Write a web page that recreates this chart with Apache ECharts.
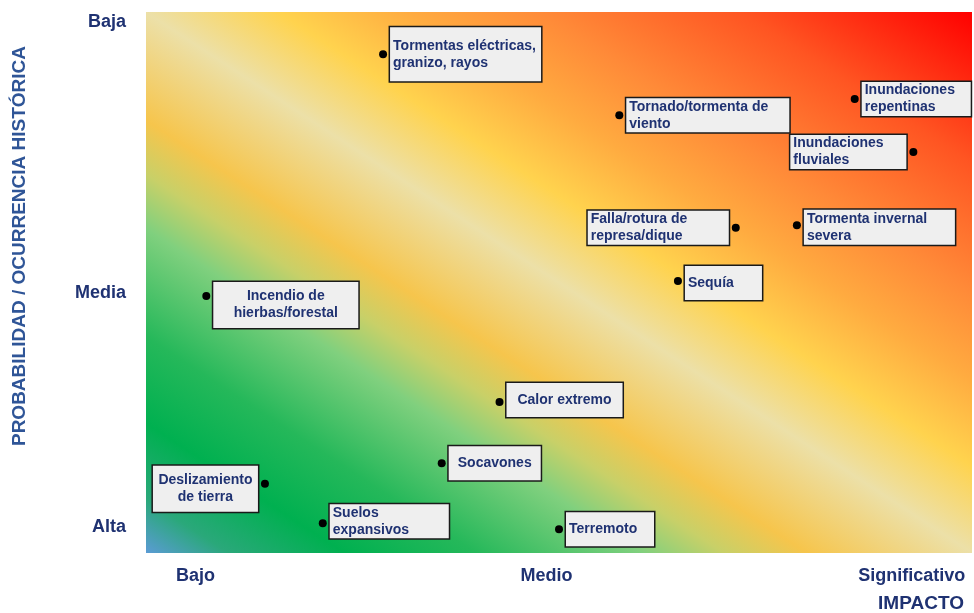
<!DOCTYPE html>
<html>
<head>
<meta charset="utf-8">
<script src="https://cdn.jsdelivr.net/npm/echarts@6/dist/echarts.min.js"></script>
<style>
  html, body { margin: 0; padding: 0; background: #fff; }
  #chart { width: 974px; height: 613px; }
</style>
</head>
<body>
<div id="chart"></div>
<script>
const hazards = [
  'Tormentas eléctricas,\ngranizo, rayos',
  'Tornado/tormenta de\nviento',
  'Inundaciones\nrepentinas',
  'Inundaciones\nfluviales',
  'Falla/rotura de\nrepresa/dique',
  'Tormenta invernal\nsevera',
  'Sequía',
  'Incendio de\nhierbas/forestal',
  'Calor extremo',
  'Socavones',
  'Deslizamiento\nde tierra',
  'Suelos\nexpansivos',
  'Terremoto'
]
const impact = [28.7, 57.3, 85.8, 92.9, 71.4, 78.8, 64.4, 7.3, 42.8, 35.8, 14.4, 21.4, 50.0]
const probability = [92.2, 80.9, 83.9, 74.1, 60.1, 60.6, 50.3, 47.5, 27.9, 16.6, 12.8, 5.5, 4.4]

const xTickValues = [6, 48.5, 92.7]
const xTickLabels = ['Bajo', 'Medio', 'Significativo']
const yTickValues = [4.8, 48.1, 98.2]
const yTickLabels = ['Alta', 'Media', 'Baja']

// box next to each dot: side, outer size, text alignment, vertical nudge
const labelBoxes = [
  { side: 'right', w: 151, h: 54, align: 'l', dy: 0 },
  { side: 'right', w: 163, h: 34, align: 'l', dy: 0 },
  { side: 'right', w: 109, h: 34, align: 'l', dy: 0 },
  { side: 'left', w: 116, h: 34, align: 'l', dy: 0 },
  { side: 'left', w: 141, h: 34, align: 'l', dy: 0 },
  { side: 'right', w: 151, h: 35, align: 'l', dy: 2 },
  { side: 'right', w: 77, h: 34, align: 'l', dy: 2 },
  { side: 'right', w: 145, h: 46, align: 'c', dy: 9 },
  { side: 'right', w: 116, h: 34, align: 'c', dy: -2 },
  { side: 'right', w: 92, h: 34, align: 'c', dy: 0 },
  { side: 'left', w: 105, h: 46, align: 'c', dy: 5 },
  { side: 'right', w: 119, h: 34, align: 'l', dy: -2 },
  { side: 'right', w: 88, h: 34, align: 'l', dy: 0 }
]

const navy = '#1f3272'
const lineH = 17
const textStyle = { fontFamily: 'Arial, "Liberation Sans", sans-serif', fontSize: 14, fontWeight: 'bold', color: navy, lineHeight: lineH }

const points = hazards.map((name, i) => {
  const box = labelBoxes[i]
  const lines = name.split('\n')
  return {
    name: name,
    value: [impact[i], probability[i]],
    label: {
      show: true,
      opacity: 1,
      position: box.side,
      distance: 3,
      offset: [0, box.dy],
      formatter: lines.map((s) => '{' + box.align + '|' + s + '}').join('\n'),
      width: box.w - 6,
      padding: [(box.h - lines.length * lineH) / 2, 3],
      backgroundColor: '#efefef',
      borderColor: '#1a1a1a',
      borderWidth: 1.5,
      rich: {
        l: Object.assign({ align: 'left' }, textStyle),
        c: Object.assign({ align: 'center' }, textStyle)
      }
    }
  }
})

const chart = echarts.init(document.getElementById('chart'))
chart.setOption({
  animation: false,
  grid: {
    left: 146,
    right: 2,
    top: 12,
    bottom: 60,
    show: true,
    borderWidth: 0,
    backgroundColor: {
      type: 'linear',
      x: 0.2, y: 1.2, x2: 0.8, y2: -0.2,
      colorStops: [
        { offset: 0.00, color: '#5b9bd5' },
        { offset: 0.05, color: '#2aa87a' },
        { offset: 0.12, color: '#00b050' },
        { offset: 0.20, color: '#25b85a' },
        { offset: 0.30, color: '#80d07e' },
        { offset: 0.35, color: '#c8d068' },
        { offset: 0.40, color: '#f6c54c' },
        { offset: 0.50, color: '#ece0a8' },
        { offset: 0.58, color: '#ffd34e' },
        { offset: 0.66, color: '#ffab40' },
        { offset: 0.74, color: '#ff8a38' },
        { offset: 0.86, color: '#ff5522' },
        { offset: 1.00, color: '#ff0000' }
      ]
    }
  },
  xAxis: {
    type: 'value',
    min: 0,
    max: 100,
    axisLine: { show: false },
    axisTick: { show: false },
    splitLine: { show: false },
    axisLabel: {
      customValues: xTickValues,
      formatter: (v) => xTickLabels[xTickValues.indexOf(v)] || '',
      margin: 14,
      color: navy,
      fontFamily: 'Arial, "Liberation Sans", sans-serif',
      fontSize: 18,
      fontWeight: 'bold'
    }
  },
  yAxis: {
    type: 'value',
    min: 0,
    max: 100,
    axisLine: { show: false },
    axisTick: { show: false },
    splitLine: { show: false },
    axisLabel: {
      customValues: yTickValues,
      formatter: (v) => yTickLabels[yTickValues.indexOf(v)] || '',
      margin: 20,
      color: navy,
      fontFamily: 'Arial, "Liberation Sans", sans-serif',
      fontSize: 18,
      fontWeight: 'bold'
    }
  },
  graphic: [
    {
      type: 'text',
      x: 20,
      y: 246,
      rotation: Math.PI / 2,
      style: {
        text: 'PROBABILIDAD / OCURRENCIA HISTÓRICA',
        fill: '#2f5597',
        font: 'bold 19px Arial, "Liberation Sans", sans-serif',
        textAlign: 'center',
        textVerticalAlign: 'middle',
        align: 'center',
        verticalAlign: 'middle'
      }
    },
    {
      type: 'text',
      x: 921,
      y: 604,
      style: {
        text: 'IMPACTO',
        fill: navy,
        font: 'bold 19px Arial, "Liberation Sans", sans-serif',
        textAlign: 'center',
        textVerticalAlign: 'middle',
        align: 'center',
        verticalAlign: 'middle'
      }
    }
  ],
  series: [{
    type: 'scatter',
    symbol: 'circle',
    symbolSize: 8,
    itemStyle: { color: '#000', opacity: 1 },
    data: points
  }]
})
</script>
</body>
</html>
